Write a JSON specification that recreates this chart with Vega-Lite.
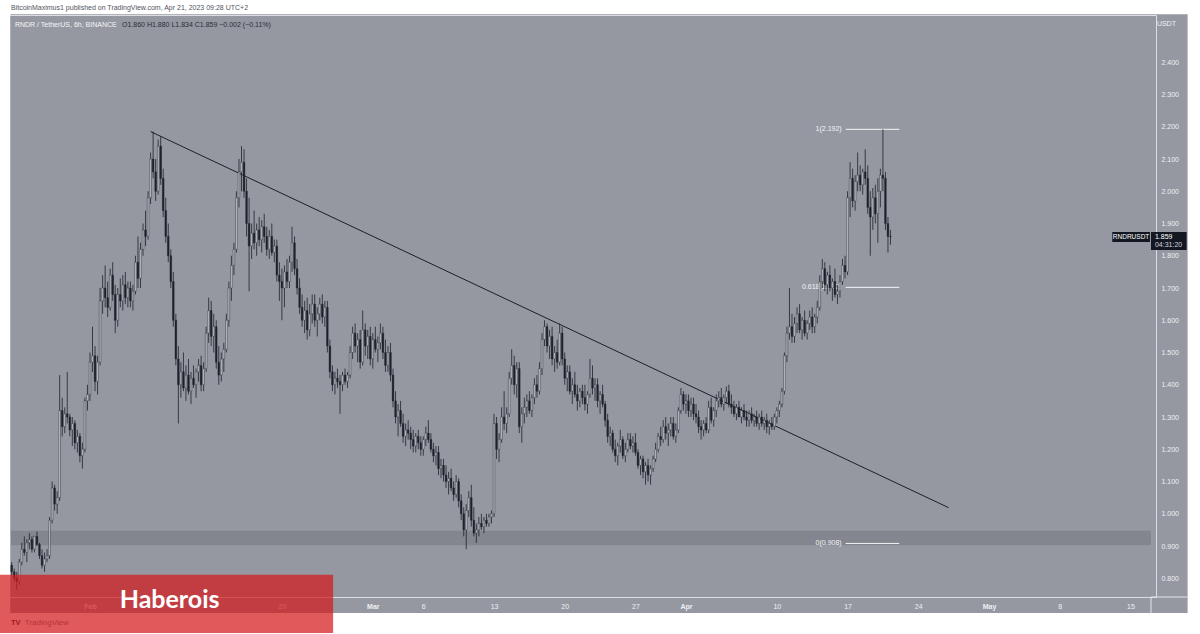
{
"$schema":"https://vega.github.io/schema/vega-lite/v6.json",
"width":1150,"height":582,
"autosize":{"type":"none"},
"padding":{"left":6,"top":15,"right":44,"bottom":37},
"background":"#9598a1",
"config":{"view":{"stroke":"#dcdee3","strokeWidth":1},"text":{"font":"Liberation Sans"}},
"resolve":{"axis":{"x":"independent","y":"independent"}},
"datasets":{
"fib":[{"p":2.192,"label":"1(2.192)"},{"p":1.702,"label":"0.618(1.702)"},{"p":0.908,"label":"0(0.908)"}],
"candles":[
{"t":"2023-01-24T06:00Z","o":0.84,"h":0.85,"l":0.81,"c":0.82},
{"t":"2023-01-24T12:00Z","o":0.82,"h":0.83,"l":0.79,"c":0.80},
{"t":"2023-01-24T18:00Z","o":0.80,"h":0.82,"l":0.765,"c":0.79},
{"t":"2023-01-25T00:00Z","o":0.79,"h":0.86,"l":0.78,"c":0.85},
{"t":"2023-01-25T06:00Z","o":0.85,"h":0.91,"l":0.84,"c":0.89},
{"t":"2023-01-25T12:00Z","o":0.89,"h":0.93,"l":0.87,"c":0.88},
{"t":"2023-01-25T18:00Z","o":0.88,"h":0.92,"l":0.85,"c":0.91},
{"t":"2023-01-26T00:00Z","o":0.91,"h":0.94,"l":0.89,"c":0.92},
{"t":"2023-01-26T06:00Z","o":0.92,"h":0.93,"l":0.88,"c":0.89},
{"t":"2023-01-26T12:00Z","o":0.89,"h":0.93,"l":0.88,"c":0.93},
{"t":"2023-01-26T18:00Z","o":0.93,"h":0.945,"l":0.90,"c":0.905},
{"t":"2023-01-27T00:00Z","o":0.905,"h":0.91,"l":0.86,"c":0.87},
{"t":"2023-01-27T06:00Z","o":0.87,"h":0.89,"l":0.83,"c":0.84},
{"t":"2023-01-27T12:00Z","o":0.84,"h":0.88,"l":0.82,"c":0.86},
{"t":"2023-01-27T18:00Z","o":0.86,"h":0.89,"l":0.85,"c":0.87},
{"t":"2023-01-28T00:00Z","o":0.87,"h":0.99,"l":0.86,"c":0.98},
{"t":"2023-01-28T06:00Z","o":0.98,"h":1.10,"l":0.97,"c":1.08},
{"t":"2023-01-28T12:00Z","o":1.08,"h":1.09,"l":1.01,"c":1.03},
{"t":"2023-01-28T18:00Z","o":1.03,"h":1.07,"l":1.00,"c":1.05},
{"t":"2023-01-29T00:00Z","o":1.05,"h":1.43,"l":1.04,"c":1.32},
{"t":"2023-01-29T06:00Z","o":1.32,"h":1.36,"l":1.24,"c":1.27},
{"t":"2023-01-29T12:00Z","o":1.27,"h":1.33,"l":1.25,"c":1.31},
{"t":"2023-01-29T18:00Z","o":1.31,"h":1.44,"l":1.28,"c":1.30},
{"t":"2023-01-30T00:00Z","o":1.30,"h":1.31,"l":1.24,"c":1.26},
{"t":"2023-01-30T06:00Z","o":1.26,"h":1.30,"l":1.21,"c":1.28},
{"t":"2023-01-30T12:00Z","o":1.28,"h":1.29,"l":1.20,"c":1.22},
{"t":"2023-01-30T18:00Z","o":1.22,"h":1.26,"l":1.19,"c":1.24},
{"t":"2023-01-31T00:00Z","o":1.24,"h":1.25,"l":1.16,"c":1.18},
{"t":"2023-01-31T06:00Z","o":1.18,"h":1.22,"l":1.14,"c":1.20},
{"t":"2023-01-31T12:00Z","o":1.20,"h":1.36,"l":1.19,"c":1.35},
{"t":"2023-01-31T18:00Z","o":1.35,"h":1.40,"l":1.32,"c":1.37},
{"t":"2023-02-01T00:00Z","o":1.37,"h":1.50,"l":1.35,"c":1.47},
{"t":"2023-02-01T06:00Z","o":1.47,"h":1.58,"l":1.44,"c":1.49},
{"t":"2023-02-01T12:00Z","o":1.49,"h":1.52,"l":1.38,"c":1.41},
{"t":"2023-02-01T18:00Z","o":1.41,"h":1.49,"l":1.37,"c":1.47},
{"t":"2023-02-02T00:00Z","o":1.47,"h":1.70,"l":1.46,"c":1.66},
{"t":"2023-02-02T06:00Z","o":1.66,"h":1.74,"l":1.62,"c":1.70},
{"t":"2023-02-02T12:00Z","o":1.70,"h":1.77,"l":1.64,"c":1.67},
{"t":"2023-02-02T18:00Z","o":1.67,"h":1.72,"l":1.61,"c":1.64},
{"t":"2023-02-03T00:00Z","o":1.64,"h":1.76,"l":1.63,"c":1.74},
{"t":"2023-02-03T06:00Z","o":1.74,"h":1.78,"l":1.66,"c":1.68},
{"t":"2023-02-03T12:00Z","o":1.68,"h":1.71,"l":1.56,"c":1.60},
{"t":"2023-02-03T18:00Z","o":1.60,"h":1.70,"l":1.58,"c":1.68},
{"t":"2023-02-04T00:00Z","o":1.68,"h":1.73,"l":1.64,"c":1.66},
{"t":"2023-02-04T06:00Z","o":1.66,"h":1.74,"l":1.63,"c":1.71},
{"t":"2023-02-04T12:00Z","o":1.71,"h":1.75,"l":1.65,"c":1.67},
{"t":"2023-02-04T18:00Z","o":1.67,"h":1.72,"l":1.64,"c":1.70},
{"t":"2023-02-05T00:00Z","o":1.70,"h":1.72,"l":1.64,"c":1.66},
{"t":"2023-02-05T06:00Z","o":1.66,"h":1.71,"l":1.63,"c":1.69},
{"t":"2023-02-05T12:00Z","o":1.69,"h":1.80,"l":1.68,"c":1.78},
{"t":"2023-02-05T18:00Z","o":1.78,"h":1.86,"l":1.70,"c":1.73},
{"t":"2023-02-06T00:00Z","o":1.73,"h":1.84,"l":1.70,"c":1.82},
{"t":"2023-02-06T06:00Z","o":1.82,"h":1.90,"l":1.80,"c":1.88},
{"t":"2023-02-06T12:00Z","o":1.88,"h":1.94,"l":1.83,"c":1.86},
{"t":"2023-02-06T18:00Z","o":1.86,"h":2.00,"l":1.85,"c":1.98},
{"t":"2023-02-07T00:00Z","o":1.98,"h":2.12,"l":1.96,"c":2.10},
{"t":"2023-02-07T06:00Z","o":2.10,"h":2.185,"l":2.04,"c":2.06},
{"t":"2023-02-07T12:00Z","o":2.06,"h":2.10,"l":1.97,"c":2.00},
{"t":"2023-02-07T18:00Z","o":2.00,"h":2.16,"l":1.99,"c":2.14},
{"t":"2023-02-08T00:00Z","o":2.14,"h":2.17,"l":2.02,"c":2.04},
{"t":"2023-02-08T06:00Z","o":2.04,"h":2.07,"l":1.92,"c":1.94},
{"t":"2023-02-08T12:00Z","o":1.94,"h":1.98,"l":1.84,"c":1.86},
{"t":"2023-02-08T18:00Z","o":1.86,"h":1.90,"l":1.78,"c":1.80},
{"t":"2023-02-09T00:00Z","o":1.80,"h":1.82,"l":1.70,"c":1.72},
{"t":"2023-02-09T06:00Z","o":1.72,"h":1.75,"l":1.58,"c":1.60},
{"t":"2023-02-09T12:00Z","o":1.60,"h":1.62,"l":1.46,"c":1.48},
{"t":"2023-02-09T18:00Z","o":1.48,"h":1.52,"l":1.28,"c":1.40},
{"t":"2023-02-10T00:00Z","o":1.40,"h":1.47,"l":1.36,"c":1.44},
{"t":"2023-02-10T06:00Z","o":1.44,"h":1.50,"l":1.38,"c":1.39},
{"t":"2023-02-10T12:00Z","o":1.39,"h":1.46,"l":1.35,"c":1.43},
{"t":"2023-02-10T18:00Z","o":1.43,"h":1.48,"l":1.37,"c":1.38},
{"t":"2023-02-11T00:00Z","o":1.38,"h":1.44,"l":1.34,"c":1.42},
{"t":"2023-02-11T06:00Z","o":1.42,"h":1.46,"l":1.39,"c":1.40},
{"t":"2023-02-11T12:00Z","o":1.40,"h":1.45,"l":1.36,"c":1.44},
{"t":"2023-02-11T18:00Z","o":1.44,"h":1.48,"l":1.41,"c":1.46},
{"t":"2023-02-12T00:00Z","o":1.46,"h":1.49,"l":1.38,"c":1.40},
{"t":"2023-02-12T06:00Z","o":1.40,"h":1.47,"l":1.38,"c":1.45},
{"t":"2023-02-12T12:00Z","o":1.45,"h":1.58,"l":1.44,"c":1.56},
{"t":"2023-02-12T18:00Z","o":1.56,"h":1.67,"l":1.53,"c":1.63},
{"t":"2023-02-13T00:00Z","o":1.63,"h":1.66,"l":1.52,"c":1.55},
{"t":"2023-02-13T06:00Z","o":1.55,"h":1.62,"l":1.50,"c":1.58},
{"t":"2023-02-13T12:00Z","o":1.58,"h":1.60,"l":1.45,"c":1.47},
{"t":"2023-02-13T18:00Z","o":1.47,"h":1.52,"l":1.40,"c":1.43},
{"t":"2023-02-14T00:00Z","o":1.43,"h":1.50,"l":1.41,"c":1.48},
{"t":"2023-02-14T06:00Z","o":1.48,"h":1.53,"l":1.44,"c":1.51},
{"t":"2023-02-14T12:00Z","o":1.51,"h":1.62,"l":1.50,"c":1.60},
{"t":"2023-02-14T18:00Z","o":1.60,"h":1.72,"l":1.58,"c":1.70},
{"t":"2023-02-15T00:00Z","o":1.70,"h":1.80,"l":1.66,"c":1.77},
{"t":"2023-02-15T06:00Z","o":1.77,"h":1.84,"l":1.74,"c":1.82},
{"t":"2023-02-15T12:00Z","o":1.82,"h":2.00,"l":1.81,"c":1.98},
{"t":"2023-02-15T18:00Z","o":1.98,"h":2.10,"l":1.95,"c":2.06},
{"t":"2023-02-16T00:00Z","o":2.06,"h":2.14,"l":2.00,"c":2.09},
{"t":"2023-02-16T06:00Z","o":2.09,"h":2.13,"l":1.98,"c":2.00},
{"t":"2023-02-16T12:00Z","o":2.00,"h":2.04,"l":1.86,"c":1.90},
{"t":"2023-02-16T18:00Z","o":1.90,"h":1.98,"l":1.69,"c":1.83},
{"t":"2023-02-17T00:00Z","o":1.83,"h":1.90,"l":1.79,"c":1.87},
{"t":"2023-02-17T06:00Z","o":1.87,"h":1.94,"l":1.82,"c":1.84},
{"t":"2023-02-17T12:00Z","o":1.84,"h":1.90,"l":1.80,"c":1.88},
{"t":"2023-02-17T18:00Z","o":1.88,"h":1.92,"l":1.83,"c":1.85},
{"t":"2023-02-18T00:00Z","o":1.85,"h":1.91,"l":1.81,"c":1.89},
{"t":"2023-02-18T06:00Z","o":1.89,"h":1.93,"l":1.84,"c":1.86},
{"t":"2023-02-18T12:00Z","o":1.86,"h":1.89,"l":1.80,"c":1.82},
{"t":"2023-02-18T18:00Z","o":1.82,"h":1.88,"l":1.79,"c":1.86},
{"t":"2023-02-19T00:00Z","o":1.86,"h":1.90,"l":1.80,"c":1.81},
{"t":"2023-02-19T06:00Z","o":1.81,"h":1.85,"l":1.78,"c":1.83},
{"t":"2023-02-19T12:00Z","o":1.83,"h":1.85,"l":1.72,"c":1.74},
{"t":"2023-02-19T18:00Z","o":1.74,"h":1.78,"l":1.66,"c":1.72},
{"t":"2023-02-20T00:00Z","o":1.72,"h":1.76,"l":1.60,"c":1.70},
{"t":"2023-02-20T06:00Z","o":1.70,"h":1.77,"l":1.64,"c":1.75},
{"t":"2023-02-20T12:00Z","o":1.75,"h":1.79,"l":1.70,"c":1.72},
{"t":"2023-02-20T18:00Z","o":1.72,"h":1.80,"l":1.70,"c":1.78},
{"t":"2023-02-21T00:00Z","o":1.78,"h":1.89,"l":1.75,"c":1.84},
{"t":"2023-02-21T06:00Z","o":1.84,"h":1.86,"l":1.74,"c":1.76},
{"t":"2023-02-21T12:00Z","o":1.76,"h":1.79,"l":1.68,"c":1.70},
{"t":"2023-02-21T18:00Z","o":1.70,"h":1.73,"l":1.62,"c":1.64},
{"t":"2023-02-22T00:00Z","o":1.64,"h":1.68,"l":1.58,"c":1.60},
{"t":"2023-02-22T06:00Z","o":1.60,"h":1.66,"l":1.56,"c":1.63},
{"t":"2023-02-22T12:00Z","o":1.63,"h":1.67,"l":1.54,"c":1.57},
{"t":"2023-02-22T18:00Z","o":1.57,"h":1.65,"l":1.55,"c":1.62},
{"t":"2023-02-23T00:00Z","o":1.62,"h":1.68,"l":1.59,"c":1.65},
{"t":"2023-02-23T06:00Z","o":1.65,"h":1.68,"l":1.58,"c":1.60},
{"t":"2023-02-23T12:00Z","o":1.60,"h":1.64,"l":1.55,"c":1.62},
{"t":"2023-02-23T18:00Z","o":1.62,"h":1.67,"l":1.60,"c":1.65},
{"t":"2023-02-24T00:00Z","o":1.65,"h":1.68,"l":1.59,"c":1.61},
{"t":"2023-02-24T06:00Z","o":1.61,"h":1.66,"l":1.58,"c":1.64},
{"t":"2023-02-24T12:00Z","o":1.64,"h":1.66,"l":1.50,"c":1.52},
{"t":"2023-02-24T18:00Z","o":1.52,"h":1.54,"l":1.42,"c":1.44},
{"t":"2023-02-25T00:00Z","o":1.44,"h":1.46,"l":1.38,"c":1.40},
{"t":"2023-02-25T06:00Z","o":1.40,"h":1.44,"l":1.37,"c":1.42},
{"t":"2023-02-25T12:00Z","o":1.42,"h":1.45,"l":1.39,"c":1.41},
{"t":"2023-02-25T18:00Z","o":1.41,"h":1.43,"l":1.31,"c":1.40},
{"t":"2023-02-26T00:00Z","o":1.40,"h":1.44,"l":1.38,"c":1.43},
{"t":"2023-02-26T06:00Z","o":1.43,"h":1.45,"l":1.40,"c":1.41},
{"t":"2023-02-26T12:00Z","o":1.41,"h":1.44,"l":1.39,"c":1.43},
{"t":"2023-02-26T18:00Z","o":1.43,"h":1.52,"l":1.42,"c":1.50},
{"t":"2023-02-27T00:00Z","o":1.50,"h":1.58,"l":1.48,"c":1.56},
{"t":"2023-02-27T06:00Z","o":1.56,"h":1.59,"l":1.50,"c":1.52},
{"t":"2023-02-27T12:00Z","o":1.52,"h":1.56,"l":1.47,"c":1.54},
{"t":"2023-02-27T18:00Z","o":1.54,"h":1.57,"l":1.45,"c":1.47},
{"t":"2023-02-28T00:00Z","o":1.47,"h":1.63,"l":1.46,"c":1.57},
{"t":"2023-02-28T06:00Z","o":1.57,"h":1.59,"l":1.49,"c":1.52},
{"t":"2023-02-28T12:00Z","o":1.52,"h":1.57,"l":1.48,"c":1.55},
{"t":"2023-02-28T18:00Z","o":1.55,"h":1.58,"l":1.46,"c":1.48},
{"t":"2023-03-01T00:00Z","o":1.48,"h":1.56,"l":1.45,"c":1.54},
{"t":"2023-03-01T06:00Z","o":1.54,"h":1.58,"l":1.50,"c":1.51},
{"t":"2023-03-01T12:00Z","o":1.51,"h":1.55,"l":1.47,"c":1.53},
{"t":"2023-03-01T18:00Z","o":1.53,"h":1.59,"l":1.51,"c":1.56},
{"t":"2023-03-02T00:00Z","o":1.56,"h":1.58,"l":1.48,"c":1.50},
{"t":"2023-03-02T06:00Z","o":1.50,"h":1.54,"l":1.44,"c":1.46},
{"t":"2023-03-02T12:00Z","o":1.46,"h":1.52,"l":1.44,"c":1.50},
{"t":"2023-03-02T18:00Z","o":1.50,"h":1.53,"l":1.41,"c":1.43},
{"t":"2023-03-03T00:00Z","o":1.43,"h":1.45,"l":1.33,"c":1.35},
{"t":"2023-03-03T06:00Z","o":1.35,"h":1.38,"l":1.28,"c":1.30},
{"t":"2023-03-03T12:00Z","o":1.30,"h":1.34,"l":1.24,"c":1.32},
{"t":"2023-03-03T18:00Z","o":1.32,"h":1.35,"l":1.27,"c":1.28},
{"t":"2023-03-04T00:00Z","o":1.28,"h":1.31,"l":1.22,"c":1.24},
{"t":"2023-03-04T06:00Z","o":1.24,"h":1.28,"l":1.21,"c":1.26},
{"t":"2023-03-04T12:00Z","o":1.26,"h":1.29,"l":1.23,"c":1.25},
{"t":"2023-03-04T18:00Z","o":1.25,"h":1.27,"l":1.20,"c":1.23},
{"t":"2023-03-05T00:00Z","o":1.23,"h":1.26,"l":1.19,"c":1.21},
{"t":"2023-03-05T06:00Z","o":1.21,"h":1.25,"l":1.19,"c":1.24},
{"t":"2023-03-05T12:00Z","o":1.24,"h":1.26,"l":1.20,"c":1.22},
{"t":"2023-03-05T18:00Z","o":1.22,"h":1.24,"l":1.18,"c":1.20},
{"t":"2023-03-06T00:00Z","o":1.20,"h":1.24,"l":1.18,"c":1.23},
{"t":"2023-03-06T06:00Z","o":1.23,"h":1.27,"l":1.21,"c":1.25},
{"t":"2023-03-06T12:00Z","o":1.25,"h":1.29,"l":1.22,"c":1.23},
{"t":"2023-03-06T18:00Z","o":1.23,"h":1.25,"l":1.19,"c":1.20},
{"t":"2023-03-07T00:00Z","o":1.20,"h":1.22,"l":1.16,"c":1.18},
{"t":"2023-03-07T06:00Z","o":1.18,"h":1.21,"l":1.15,"c":1.19},
{"t":"2023-03-07T12:00Z","o":1.19,"h":1.21,"l":1.12,"c":1.14},
{"t":"2023-03-07T18:00Z","o":1.14,"h":1.17,"l":1.11,"c":1.15},
{"t":"2023-03-08T00:00Z","o":1.15,"h":1.17,"l":1.10,"c":1.12},
{"t":"2023-03-08T06:00Z","o":1.12,"h":1.15,"l":1.08,"c":1.10},
{"t":"2023-03-08T12:00Z","o":1.10,"h":1.13,"l":1.06,"c":1.11},
{"t":"2023-03-08T18:00Z","o":1.11,"h":1.14,"l":1.07,"c":1.08},
{"t":"2023-03-09T00:00Z","o":1.08,"h":1.10,"l":1.04,"c":1.06},
{"t":"2023-03-09T06:00Z","o":1.06,"h":1.12,"l":1.05,"c":1.10},
{"t":"2023-03-09T12:00Z","o":1.10,"h":1.11,"l":1.02,"c":1.04},
{"t":"2023-03-09T18:00Z","o":1.04,"h":1.06,"l":0.98,"c":1.00},
{"t":"2023-03-10T00:00Z","o":1.00,"h":1.02,"l":0.93,"c":0.95},
{"t":"2023-03-10T06:00Z","o":0.95,"h":1.03,"l":0.89,"c":1.01},
{"t":"2023-03-10T12:00Z","o":1.01,"h":1.07,"l":0.99,"c":1.05},
{"t":"2023-03-10T18:00Z","o":1.05,"h":1.09,"l":0.96,"c":0.98},
{"t":"2023-03-11T00:00Z","o":0.98,"h":1.02,"l":0.93,"c":0.94},
{"t":"2023-03-11T06:00Z","o":0.94,"h":0.97,"l":0.91,"c":0.95},
{"t":"2023-03-11T12:00Z","o":0.95,"h":0.99,"l":0.93,"c":0.97},
{"t":"2023-03-11T18:00Z","o":0.97,"h":1.00,"l":0.95,"c":0.96},
{"t":"2023-03-12T00:00Z","o":0.96,"h":0.99,"l":0.94,"c":0.98},
{"t":"2023-03-12T06:00Z","o":0.98,"h":1.00,"l":0.96,"c":0.97},
{"t":"2023-03-12T12:00Z","o":0.97,"h":1.00,"l":0.96,"c":0.99},
{"t":"2023-03-12T18:00Z","o":0.99,"h":1.01,"l":0.97,"c":1.00},
{"t":"2023-03-13T00:00Z","o":1.00,"h":1.31,"l":0.99,"c":1.28},
{"t":"2023-03-13T06:00Z","o":1.28,"h":1.30,"l":1.17,"c":1.20},
{"t":"2023-03-13T12:00Z","o":1.20,"h":1.25,"l":1.16,"c":1.23},
{"t":"2023-03-13T18:00Z","o":1.23,"h":1.33,"l":1.22,"c":1.30},
{"t":"2023-03-14T00:00Z","o":1.30,"h":1.38,"l":1.26,"c":1.28},
{"t":"2023-03-14T06:00Z","o":1.28,"h":1.33,"l":1.25,"c":1.31},
{"t":"2023-03-14T12:00Z","o":1.31,"h":1.44,"l":1.30,"c":1.42},
{"t":"2023-03-14T18:00Z","o":1.42,"h":1.51,"l":1.40,"c":1.46},
{"t":"2023-03-15T00:00Z","o":1.46,"h":1.49,"l":1.37,"c":1.40},
{"t":"2023-03-15T06:00Z","o":1.40,"h":1.47,"l":1.36,"c":1.45},
{"t":"2023-03-15T12:00Z","o":1.45,"h":1.47,"l":1.25,"c":1.27},
{"t":"2023-03-15T18:00Z","o":1.27,"h":1.33,"l":1.22,"c":1.31},
{"t":"2023-03-16T00:00Z","o":1.31,"h":1.36,"l":1.28,"c":1.33},
{"t":"2023-03-16T06:00Z","o":1.33,"h":1.37,"l":1.30,"c":1.35},
{"t":"2023-03-16T12:00Z","o":1.35,"h":1.38,"l":1.31,"c":1.32},
{"t":"2023-03-16T18:00Z","o":1.32,"h":1.37,"l":1.30,"c":1.36},
{"t":"2023-03-17T00:00Z","o":1.36,"h":1.42,"l":1.34,"c":1.40},
{"t":"2023-03-17T06:00Z","o":1.40,"h":1.43,"l":1.36,"c":1.38},
{"t":"2023-03-17T12:00Z","o":1.38,"h":1.47,"l":1.37,"c":1.45},
{"t":"2023-03-17T18:00Z","o":1.45,"h":1.56,"l":1.43,"c":1.54},
{"t":"2023-03-18T00:00Z","o":1.54,"h":1.60,"l":1.52,"c":1.58},
{"t":"2023-03-18T06:00Z","o":1.58,"h":1.59,"l":1.50,"c":1.52},
{"t":"2023-03-18T12:00Z","o":1.52,"h":1.57,"l":1.48,"c":1.55},
{"t":"2023-03-18T18:00Z","o":1.55,"h":1.58,"l":1.46,"c":1.48},
{"t":"2023-03-19T00:00Z","o":1.48,"h":1.52,"l":1.44,"c":1.50},
{"t":"2023-03-19T06:00Z","o":1.50,"h":1.54,"l":1.45,"c":1.47},
{"t":"2023-03-19T12:00Z","o":1.47,"h":1.59,"l":1.46,"c":1.56},
{"t":"2023-03-19T18:00Z","o":1.56,"h":1.58,"l":1.46,"c":1.48},
{"t":"2023-03-20T00:00Z","o":1.48,"h":1.50,"l":1.40,"c":1.42},
{"t":"2023-03-20T06:00Z","o":1.42,"h":1.46,"l":1.38,"c":1.44},
{"t":"2023-03-20T12:00Z","o":1.44,"h":1.46,"l":1.37,"c":1.38},
{"t":"2023-03-20T18:00Z","o":1.38,"h":1.42,"l":1.34,"c":1.40},
{"t":"2023-03-21T00:00Z","o":1.40,"h":1.44,"l":1.36,"c":1.37},
{"t":"2023-03-21T06:00Z","o":1.37,"h":1.40,"l":1.32,"c":1.35},
{"t":"2023-03-21T12:00Z","o":1.35,"h":1.39,"l":1.33,"c":1.38},
{"t":"2023-03-21T18:00Z","o":1.38,"h":1.40,"l":1.34,"c":1.36},
{"t":"2023-03-22T00:00Z","o":1.36,"h":1.40,"l":1.32,"c":1.34},
{"t":"2023-03-22T06:00Z","o":1.34,"h":1.38,"l":1.31,"c":1.37},
{"t":"2023-03-22T12:00Z","o":1.37,"h":1.48,"l":1.36,"c":1.42},
{"t":"2023-03-22T18:00Z","o":1.42,"h":1.46,"l":1.37,"c":1.39},
{"t":"2023-03-23T00:00Z","o":1.39,"h":1.42,"l":1.35,"c":1.40},
{"t":"2023-03-23T06:00Z","o":1.40,"h":1.42,"l":1.33,"c":1.35},
{"t":"2023-03-23T12:00Z","o":1.35,"h":1.38,"l":1.31,"c":1.37},
{"t":"2023-03-23T18:00Z","o":1.37,"h":1.40,"l":1.33,"c":1.34},
{"t":"2023-03-24T00:00Z","o":1.34,"h":1.35,"l":1.27,"c":1.29},
{"t":"2023-03-24T06:00Z","o":1.29,"h":1.31,"l":1.22,"c":1.24},
{"t":"2023-03-24T12:00Z","o":1.24,"h":1.27,"l":1.21,"c":1.25},
{"t":"2023-03-24T18:00Z","o":1.25,"h":1.26,"l":1.19,"c":1.20},
{"t":"2023-03-25T00:00Z","o":1.20,"h":1.23,"l":1.16,"c":1.18},
{"t":"2023-03-25T06:00Z","o":1.18,"h":1.22,"l":1.15,"c":1.21},
{"t":"2023-03-25T12:00Z","o":1.21,"h":1.26,"l":1.19,"c":1.23},
{"t":"2023-03-25T18:00Z","o":1.23,"h":1.24,"l":1.17,"c":1.18},
{"t":"2023-03-26T00:00Z","o":1.18,"h":1.22,"l":1.16,"c":1.20},
{"t":"2023-03-26T06:00Z","o":1.20,"h":1.25,"l":1.19,"c":1.23},
{"t":"2023-03-26T12:00Z","o":1.23,"h":1.25,"l":1.20,"c":1.21},
{"t":"2023-03-26T18:00Z","o":1.21,"h":1.24,"l":1.19,"c":1.22},
{"t":"2023-03-27T00:00Z","o":1.22,"h":1.25,"l":1.18,"c":1.19},
{"t":"2023-03-27T06:00Z","o":1.19,"h":1.20,"l":1.14,"c":1.15},
{"t":"2023-03-27T12:00Z","o":1.15,"h":1.18,"l":1.12,"c":1.17},
{"t":"2023-03-27T18:00Z","o":1.17,"h":1.18,"l":1.11,"c":1.13},
{"t":"2023-03-28T00:00Z","o":1.13,"h":1.16,"l":1.09,"c":1.15},
{"t":"2023-03-28T06:00Z","o":1.15,"h":1.17,"l":1.10,"c":1.12},
{"t":"2023-03-28T12:00Z","o":1.12,"h":1.15,"l":1.09,"c":1.14},
{"t":"2023-03-28T18:00Z","o":1.14,"h":1.18,"l":1.13,"c":1.17},
{"t":"2023-03-29T00:00Z","o":1.17,"h":1.22,"l":1.16,"c":1.20},
{"t":"2023-03-29T06:00Z","o":1.20,"h":1.25,"l":1.19,"c":1.24},
{"t":"2023-03-29T12:00Z","o":1.24,"h":1.27,"l":1.21,"c":1.23},
{"t":"2023-03-29T18:00Z","o":1.23,"h":1.29,"l":1.22,"c":1.27},
{"t":"2023-03-30T00:00Z","o":1.27,"h":1.30,"l":1.23,"c":1.25},
{"t":"2023-03-30T06:00Z","o":1.25,"h":1.28,"l":1.21,"c":1.26},
{"t":"2023-03-30T12:00Z","o":1.26,"h":1.30,"l":1.24,"c":1.28},
{"t":"2023-03-30T18:00Z","o":1.28,"h":1.30,"l":1.23,"c":1.24},
{"t":"2023-03-31T00:00Z","o":1.24,"h":1.28,"l":1.22,"c":1.26},
{"t":"2023-03-31T06:00Z","o":1.26,"h":1.33,"l":1.25,"c":1.32},
{"t":"2023-03-31T12:00Z","o":1.32,"h":1.39,"l":1.31,"c":1.37},
{"t":"2023-03-31T18:00Z","o":1.37,"h":1.38,"l":1.32,"c":1.34},
{"t":"2023-04-01T00:00Z","o":1.34,"h":1.37,"l":1.31,"c":1.35},
{"t":"2023-04-01T06:00Z","o":1.35,"h":1.37,"l":1.30,"c":1.32},
{"t":"2023-04-01T12:00Z","o":1.32,"h":1.36,"l":1.30,"c":1.34},
{"t":"2023-04-01T18:00Z","o":1.34,"h":1.36,"l":1.29,"c":1.31},
{"t":"2023-04-02T00:00Z","o":1.31,"h":1.34,"l":1.28,"c":1.30},
{"t":"2023-04-02T06:00Z","o":1.30,"h":1.32,"l":1.25,"c":1.27},
{"t":"2023-04-02T12:00Z","o":1.27,"h":1.29,"l":1.23,"c":1.26},
{"t":"2023-04-02T18:00Z","o":1.26,"h":1.29,"l":1.24,"c":1.28},
{"t":"2023-04-03T00:00Z","o":1.28,"h":1.30,"l":1.25,"c":1.26},
{"t":"2023-04-03T06:00Z","o":1.26,"h":1.35,"l":1.25,"c":1.33},
{"t":"2023-04-03T12:00Z","o":1.33,"h":1.36,"l":1.28,"c":1.29},
{"t":"2023-04-03T18:00Z","o":1.29,"h":1.33,"l":1.27,"c":1.32},
{"t":"2023-04-04T00:00Z","o":1.32,"h":1.37,"l":1.30,"c":1.35},
{"t":"2023-04-04T06:00Z","o":1.35,"h":1.38,"l":1.33,"c":1.36},
{"t":"2023-04-04T12:00Z","o":1.36,"h":1.39,"l":1.33,"c":1.34},
{"t":"2023-04-04T18:00Z","o":1.34,"h":1.37,"l":1.32,"c":1.36},
{"t":"2023-04-05T00:00Z","o":1.36,"h":1.395,"l":1.34,"c":1.38},
{"t":"2023-04-05T06:00Z","o":1.38,"h":1.40,"l":1.33,"c":1.34},
{"t":"2023-04-05T12:00Z","o":1.34,"h":1.37,"l":1.31,"c":1.33},
{"t":"2023-04-05T18:00Z","o":1.33,"h":1.35,"l":1.30,"c":1.31},
{"t":"2023-04-06T00:00Z","o":1.31,"h":1.34,"l":1.29,"c":1.33},
{"t":"2023-04-06T06:00Z","o":1.33,"h":1.35,"l":1.30,"c":1.30},
{"t":"2023-04-06T12:00Z","o":1.30,"h":1.33,"l":1.28,"c":1.32},
{"t":"2023-04-06T18:00Z","o":1.32,"h":1.34,"l":1.29,"c":1.30},
{"t":"2023-04-07T00:00Z","o":1.30,"h":1.32,"l":1.27,"c":1.29},
{"t":"2023-04-07T06:00Z","o":1.29,"h":1.32,"l":1.27,"c":1.31},
{"t":"2023-04-07T12:00Z","o":1.31,"h":1.33,"l":1.28,"c":1.29},
{"t":"2023-04-07T18:00Z","o":1.29,"h":1.31,"l":1.27,"c":1.30},
{"t":"2023-04-08T00:00Z","o":1.30,"h":1.32,"l":1.27,"c":1.28},
{"t":"2023-04-08T06:00Z","o":1.28,"h":1.31,"l":1.26,"c":1.30},
{"t":"2023-04-08T12:00Z","o":1.30,"h":1.32,"l":1.27,"c":1.28},
{"t":"2023-04-08T18:00Z","o":1.28,"h":1.30,"l":1.26,"c":1.29},
{"t":"2023-04-09T00:00Z","o":1.29,"h":1.31,"l":1.25,"c":1.27},
{"t":"2023-04-09T06:00Z","o":1.27,"h":1.29,"l":1.245,"c":1.28},
{"t":"2023-04-09T12:00Z","o":1.28,"h":1.30,"l":1.26,"c":1.27},
{"t":"2023-04-09T18:00Z","o":1.27,"h":1.31,"l":1.26,"c":1.30},
{"t":"2023-04-10T00:00Z","o":1.30,"h":1.33,"l":1.28,"c":1.32},
{"t":"2023-04-10T06:00Z","o":1.32,"h":1.35,"l":1.30,"c":1.34},
{"t":"2023-04-10T12:00Z","o":1.34,"h":1.39,"l":1.33,"c":1.38},
{"t":"2023-04-10T18:00Z","o":1.38,"h":1.50,"l":1.37,"c":1.49},
{"t":"2023-04-11T00:00Z","o":1.49,"h":1.58,"l":1.47,"c":1.56},
{"t":"2023-04-11T06:00Z","o":1.56,"h":1.70,"l":1.54,"c":1.58},
{"t":"2023-04-11T12:00Z","o":1.58,"h":1.62,"l":1.53,"c":1.55},
{"t":"2023-04-11T18:00Z","o":1.55,"h":1.61,"l":1.53,"c":1.59},
{"t":"2023-04-12T00:00Z","o":1.59,"h":1.64,"l":1.56,"c":1.62},
{"t":"2023-04-12T06:00Z","o":1.62,"h":1.65,"l":1.56,"c":1.57},
{"t":"2023-04-12T12:00Z","o":1.57,"h":1.61,"l":1.54,"c":1.60},
{"t":"2023-04-12T18:00Z","o":1.60,"h":1.63,"l":1.55,"c":1.56},
{"t":"2023-04-13T00:00Z","o":1.56,"h":1.60,"l":1.54,"c":1.59},
{"t":"2023-04-13T06:00Z","o":1.59,"h":1.63,"l":1.57,"c":1.61},
{"t":"2023-04-13T12:00Z","o":1.61,"h":1.64,"l":1.56,"c":1.58},
{"t":"2023-04-13T18:00Z","o":1.58,"h":1.62,"l":1.56,"c":1.61},
{"t":"2023-04-14T00:00Z","o":1.61,"h":1.66,"l":1.59,"c":1.64},
{"t":"2023-04-14T06:00Z","o":1.64,"h":1.74,"l":1.63,"c":1.72},
{"t":"2023-04-14T12:00Z","o":1.72,"h":1.79,"l":1.70,"c":1.76},
{"t":"2023-04-14T18:00Z","o":1.76,"h":1.78,"l":1.69,"c":1.71},
{"t":"2023-04-15T00:00Z","o":1.71,"h":1.75,"l":1.68,"c":1.74},
{"t":"2023-04-15T06:00Z","o":1.74,"h":1.77,"l":1.69,"c":1.70},
{"t":"2023-04-15T12:00Z","o":1.70,"h":1.73,"l":1.66,"c":1.72},
{"t":"2023-04-15T18:00Z","o":1.72,"h":1.76,"l":1.67,"c":1.68},
{"t":"2023-04-16T00:00Z","o":1.68,"h":1.71,"l":1.65,"c":1.69},
{"t":"2023-04-16T06:00Z","o":1.69,"h":1.74,"l":1.67,"c":1.72},
{"t":"2023-04-16T12:00Z","o":1.72,"h":1.79,"l":1.71,"c":1.77},
{"t":"2023-04-16T18:00Z","o":1.77,"h":1.80,"l":1.73,"c":1.75},
{"t":"2023-04-17T00:00Z","o":1.75,"h":2.00,"l":1.74,"c":1.98},
{"t":"2023-04-17T06:00Z","o":1.98,"h":2.09,"l":1.92,"c":2.04},
{"t":"2023-04-17T12:00Z","o":2.04,"h":2.07,"l":1.95,"c":1.97},
{"t":"2023-04-17T18:00Z","o":1.97,"h":2.05,"l":1.94,"c":2.03},
{"t":"2023-04-18T00:00Z","o":2.03,"h":2.12,"l":2.00,"c":2.05},
{"t":"2023-04-18T06:00Z","o":2.05,"h":2.08,"l":2.00,"c":2.02},
{"t":"2023-04-18T12:00Z","o":2.02,"h":2.07,"l":1.99,"c":2.06},
{"t":"2023-04-18T18:00Z","o":2.06,"h":2.13,"l":2.02,"c":2.04},
{"t":"2023-04-19T00:00Z","o":2.04,"h":2.08,"l":1.93,"c":1.95},
{"t":"2023-04-19T06:00Z","o":1.95,"h":2.00,"l":1.80,"c":1.92},
{"t":"2023-04-19T12:00Z","o":1.92,"h":2.01,"l":1.88,"c":1.98},
{"t":"2023-04-19T18:00Z","o":1.98,"h":2.02,"l":1.90,"c":1.93},
{"t":"2023-04-20T00:00Z","o":1.93,"h":2.04,"l":1.84,"c":2.00},
{"t":"2023-04-20T06:00Z","o":2.00,"h":2.07,"l":1.95,"c":2.05},
{"t":"2023-04-20T12:00Z","o":2.05,"h":2.192,"l":2.00,"c":2.04},
{"t":"2023-04-20T18:00Z","o":2.04,"h":2.06,"l":1.88,"c":1.90},
{"t":"2023-04-21T00:00Z","o":1.90,"h":1.92,"l":1.81,"c":1.86},
{"t":"2023-04-21T06:00Z","o":1.86,"h":1.88,"l":1.834,"c":1.859}
]},
"layer":[
{"data":{"values":[{}]},"mark":{"type":"rect","color":"#ffffff"},
 "encoding":{"x":{"datum":{"year":2023,"month":1,"date":22,"utc":true},"type":"temporal","axis":null},"x2":{"datum":{"year":2023,"month":5,"date":24,"utc":true}},
 "y":{"datum":2.7,"type":"quantitative","axis":null},"y2":{"datum":2.549}}},
{"data":{"values":[{}]},"mark":{"type":"rect","color":"#ffffff"},
 "encoding":{"x":{"datum":{"year":2023,"month":1,"date":22,"utc":true},"type":"temporal","axis":null},"x2":{"datum":{"year":2023,"month":1,"date":24,"hours":2,"minutes":30,"utc":true}},
 "y":{"datum":2.7,"type":"quantitative","axis":null},"y2":{"datum":0.55}}},
{"data":{"values":[{}]},"mark":{"type":"rect","color":"#ffffff"},
 "encoding":{"x":{"datum":{"year":2023,"month":5,"date":20,"hours":16,"utc":true},"type":"temporal","axis":null},"x2":{"datum":{"year":2023,"month":5,"date":24,"utc":true}},
 "y":{"datum":2.7,"type":"quantitative","axis":null},"y2":{"datum":0.55}}},
{"data":{"values":[{}]},"mark":{"type":"rect","color":"#ffffff"},
 "encoding":{"x":{"datum":{"year":2023,"month":1,"date":22,"utc":true},"type":"temporal","axis":null},"x2":{"datum":{"year":2023,"month":5,"date":24,"utc":true}},
 "y":{"datum":0.6922,"type":"quantitative","axis":null},"y2":{"datum":0.55}}},
{"data":{"values":[{}]},"mark":{"type":"rect","color":"#83868e"},
 "encoding":{"x":{"datum":{"year":2023,"month":1,"date":24,"hours":4,"minutes":19,"utc":true},"type":"temporal","axis":null},"x2":{"datum":{"year":2023,"month":5,"date":17,"hours":1,"utc":true}},
 "y":{"datum":0.947,"type":"quantitative","axis":null},"y2":{"datum":0.902}}},
{"data":{"values":[{}]},"mark":{"type":"rule","color":"#e3e5ea","strokeWidth":1},
 "encoding":{"x":{"datum":{"year":2023,"month":5,"date":17,"hours":1,"utc":true},"type":"temporal","axis":null},"x2":{"datum":{"year":2023,"month":5,"date":20,"hours":16,"utc":true}},
 "y":{"datum":0.7419,"type":"quantitative","axis":null}}},
{"data":{"values":[{}]},"mark":{"type":"rule","color":"#e3e5ea","strokeWidth":1},
 "encoding":{"x":{"datum":{"year":2023,"month":5,"date":17,"hours":1,"utc":true},"type":"temporal","axis":null},
 "y":{"datum":0.7419,"type":"quantitative","axis":null},"y2":{"datum":0.6922}}},
{"data":{"name":"fib"},"mark":{"type":"rule","color":"#f4f5f8","strokeWidth":1},
 "encoding":{"x":{"datum":{"year":2023,"month":4,"date":16,"hours":19,"minutes":30,"utc":true},"type":"temporal","axis":null},"x2":{"datum":{"year":2023,"month":4,"date":22,"hours":3,"utc":true}},
 "y":{"field":"p","type":"quantitative","axis":null}}},
{"data":{"name":"fib"},"mark":{"type":"text","color":"#f4f5f8","fontSize":7,"align":"right","baseline":"middle","dx":-4},
 "encoding":{"x":{"datum":{"year":2023,"month":4,"date":16,"hours":19,"minutes":30,"utc":true},"type":"temporal","axis":null},
 "y":{"field":"p","type":"quantitative","axis":null},"text":{"field":"label"}}},
{"data":{"values":[{}]},"mark":{"type":"rule","color":"#1c1f27","strokeWidth":1},
 "encoding":{"x":{"datum":{"year":2023,"month":2,"date":7,"utc":true},"type":"temporal","axis":null},"x2":{"datum":{"year":2023,"month":4,"date":27,"utc":true}},
 "y":{"datum":2.185,"type":"quantitative","axis":null},"y2":{"datum":1.019}}},
{"data":{"name":"candles"},"mark":{"type":"rule","color":"#1f222b","strokeWidth":0.8},
 "encoding":{
  "x":{"field":"t","type":"temporal",
   "scale":{"type":"utc","domain":[{"year":2023,"month":1,"date":24,"hours":4,"minutes":19,"utc":true},{"year":2023,"month":5,"date":17,"hours":1,"utc":true}]},
   "axis":{"title":null,"grid":false,"ticks":false,"domain":false,"labelColor":"#eef0f4","labelFontSize":7,"labelFont":"Liberation Sans","labelPadding":5,"labelOverlap":false,"labelFlush":false,
    "values":[{"year":2023,"month":2,"date":1,"utc":true},{"year":2023,"month":2,"date":20,"utc":true},{"year":2023,"month":3,"date":1,"utc":true},{"year":2023,"month":3,"date":6,"utc":true},{"year":2023,"month":3,"date":13,"utc":true},{"year":2023,"month":3,"date":20,"utc":true},{"year":2023,"month":3,"date":27,"utc":true},{"year":2023,"month":4,"date":1,"utc":true},{"year":2023,"month":4,"date":10,"utc":true},{"year":2023,"month":4,"date":17,"utc":true},{"year":2023,"month":4,"date":24,"utc":true},{"year":2023,"month":5,"date":1,"utc":true},{"year":2023,"month":5,"date":8,"utc":true},{"year":2023,"month":5,"date":15,"utc":true}],
    "labelExpr":"utcdate(datum.value) == 1 ? utcFormat(datum.value, '%b') : utcFormat(datum.value, '%-d')",
    "labelFontWeight":{"condition":{"test":"utcdate(datum.value) == 1","value":"bold"},"value":"normal"}}},
  "y":{"field":"l","type":"quantitative",
   "scale":{"domain":[0.7419,2.5465],"nice":false,"zero":false},
   "axis":{"title":null,"orient":"right","grid":false,"ticks":false,"domain":false,"labelColor":"#eef0f4","labelFontSize":7,"labelFont":"Liberation Sans","labelPadding":5,"format":".3f","labelOverlap":false,
    "values":[0.8,0.9,1.0,1.1,1.2,1.3,1.4,1.5,1.6,1.7,1.8,1.9,2.0,2.1,2.2,2.3,2.4]}},
  "y2":{"field":"h"}}},
{"data":{"name":"candles"},"mark":{"type":"bar","size":1.7,"stroke":"#1f222b","strokeWidth":0.4},
 "encoding":{"x":{"field":"t","type":"temporal","axis":null},
  "y":{"field":"o","type":"quantitative","axis":null},"y2":{"field":"c"},
  "fill":{"condition":{"test":"datum.c >= datum.o","value":"#c3c5cb"},"value":"#1f222b"}}},
{"data":{"values":[{}]},"mark":{"type":"text","text":"BitcoinMaximus1 published on TradingView.com, Apr 21, 2023 09:28 UTC+2","color":"#50535e","fontSize":7,"align":"left","baseline":"middle"},
 "encoding":{"x":{"datum":{"year":2023,"month":1,"date":24,"hours":4,"minutes":19,"utc":true},"type":"temporal","axis":null},"y":{"datum":2.567,"type":"quantitative","axis":null}}},
{"data":{"values":[{}]},"mark":{"type":"text","text":"RNDR / TetherUS, 6h, BINANCE","color":"#f4f5f8","fontSize":7,"align":"left","baseline":"middle"},
 "encoding":{"x":{"datum":{"year":2023,"month":1,"date":24,"hours":13,"minutes":40,"utc":true},"type":"temporal","axis":null},"y":{"datum":2.517,"type":"quantitative","axis":null}}},
{"data":{"values":[{}]},"mark":{"type":"text","text":"O1.860  H1.880  L1.834  C1.859  −0.002 (−0.11%)","color":"#2b2e38","fontSize":7,"align":"left","baseline":"middle"},
 "encoding":{"x":{"datum":{"year":2023,"month":2,"date":4,"hours":4,"utc":true},"type":"temporal","axis":null},"y":{"datum":2.517,"type":"quantitative","axis":null}}},
{"data":{"values":[{}]},"mark":{"type":"text","text":"USDT","color":"#eef0f4","fontSize":7,"align":"left","baseline":"middle"},
 "encoding":{"x":{"datum":{"year":2023,"month":5,"date":17,"hours":15,"utc":true},"type":"temporal","axis":null},"y":{"datum":2.519,"type":"quantitative","axis":null}}},
{"data":{"values":[{}]},"mark":{"type":"rect","color":"#131722"},
 "encoding":{"x":{"datum":{"year":2023,"month":5,"date":13,"hours":5,"utc":true},"type":"temporal","axis":null},"x2":{"datum":{"year":2023,"month":5,"date":16,"hours":22,"minutes":30,"utc":true}},
 "y":{"datum":1.8736,"type":"quantitative","axis":null},"y2":{"datum":1.8426}}},
{"data":{"values":[{}]},"mark":{"type":"text","text":"RNDRUSDT","color":"#ffffff","fontSize":6.5,"align":"center","baseline":"middle"},
 "encoding":{"x":{"datum":{"year":2023,"month":5,"date":15,"hours":1,"minutes":40,"utc":true},"type":"temporal","axis":null},"y":{"datum":1.858,"type":"quantitative","axis":null}}},
{"data":{"values":[{}]},"mark":{"type":"rect","color":"#131722"},
 "encoding":{"x":{"datum":{"year":2023,"month":5,"date":17,"hours":1,"utc":true},"type":"temporal","axis":null},"x2":{"datum":{"year":2023,"month":5,"date":20,"hours":13,"minutes":40,"utc":true}},
 "y":{"datum":1.8736,"type":"quantitative","axis":null},"y2":{"datum":1.8178}}},
{"data":{"values":[{}]},"mark":{"type":"text","text":"1.859","color":"#ffffff","fontSize":7,"align":"left","baseline":"middle"},
 "encoding":{"x":{"datum":{"year":2023,"month":5,"date":17,"hours":10,"minutes":20,"utc":true},"type":"temporal","axis":null},"y":{"datum":1.858,"type":"quantitative","axis":null}}},
{"data":{"values":[{}]},"mark":{"type":"text","text":"04:31:20","color":"#d1d4dc","fontSize":7,"align":"left","baseline":"middle"},
 "encoding":{"x":{"datum":{"year":2023,"month":5,"date":17,"hours":10,"minutes":20,"utc":true},"type":"temporal","axis":null},"y":{"datum":1.832,"type":"quantitative","axis":null}}},
{"data":{"values":[{}]},"mark":{"type":"text","text":"TV","color":"#131722","fontSize":7.5,"fontWeight":"bold","align":"left","baseline":"middle"},
 "encoding":{"x":{"datum":{"year":2023,"month":1,"date":24,"hours":4,"minutes":19,"utc":true},"type":"temporal","axis":null},"y":{"datum":0.661,"type":"quantitative","axis":null}}},
{"data":{"values":[{}]},"mark":{"type":"text","text":"TradingView","color":"#6a6d78","fontSize":8,"align":"left","baseline":"middle"},
 "encoding":{"x":{"datum":{"year":2023,"month":1,"date":25,"hours":13,"minutes":10,"utc":true},"type":"temporal","axis":null},"y":{"datum":0.661,"type":"quantitative","axis":null}}},
{"data":{"values":[{}]},"mark":{"type":"rect","color":"#d41a1d","opacity":0.72},
 "encoding":{"x":{"datum":{"year":2023,"month":1,"date":23,"utc":true},"type":"temporal","axis":null},"x2":{"datum":{"year":2023,"month":2,"date":25,"hours":1,"minutes":40,"utc":true}},
 "y":{"datum":0.811,"type":"quantitative","axis":null},"y2":{"datum":0.6302}}},
{"data":{"values":[{}]},"mark":{"type":"text","text":"Haberois","color":"#ffffff","font":"Lato","fontSize":25,"fontWeight":"bold","align":"center","baseline":"middle"},
 "encoding":{"x":{"datum":{"year":2023,"month":2,"date":8,"hours":21,"minutes":10,"utc":true},"type":"temporal","axis":null},"y":{"datum":0.7326,"type":"quantitative","axis":null}}}
]
}
